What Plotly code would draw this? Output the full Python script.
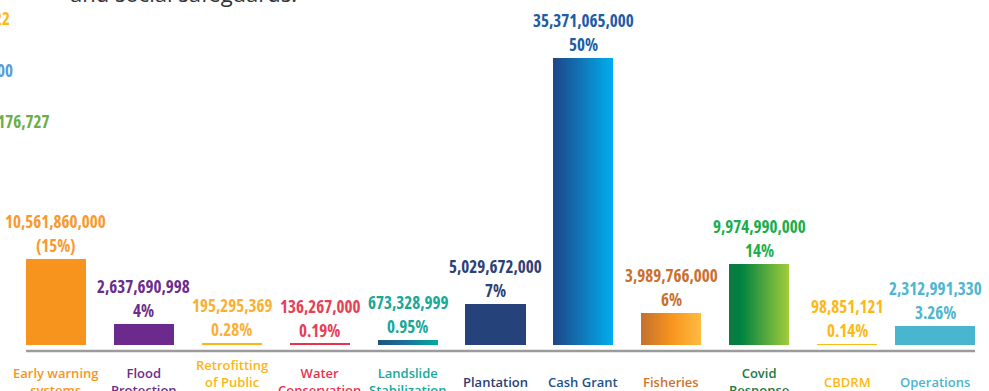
import plotly.graph_objects as go

# ---------------- data ----------------
categories = ["Early warning systems", "Flood Protection", "Retrofitting of Public Buildings",
              "Water Conservation", "Landslide Stabilization", "Plantation", "Cash Grant",
              "Fisheries", "Covid Response", "CBDRM", "Operations"]
category_labels = ["Early warning<br>systems", "Flood<br>Protection", "Retrofitting<br>of Public<br>Buildings",
                   "Water<br>Conservation", "Landslide<br>Stabilization", "Plantation", "Cash Grant",
                   "Fisheries", "Covid<br>Response", "CBDRM", "Operations"]
amounts = [10561860000, 2637690998, 195295369, 136267000, 673328999, 5029672000,
           35371065000, 3989766000, 9974990000, 98851121, 2312991330]
shares = ["(15%)", "4%", "0.28%", "0.19%", "0.95%", "7%", "50%", "6%", "14%", "0.14%", "3.26%"]

# fragments of neighbouring content visible at the left edge
edge_fragments = ["22", "00", "0,176,727"]

# ---------------- styles ----------------
bar_colors = ["#F7941D", "#6B2A8C", "#FDB515", "#E8334F", "#1E6E9E", "#26427A",
              "#0E7BC0", "#F7941D", "#3E9A3E", "#FDBA13", "#4AB5CF"]
gradients = {
    4: [(0.0, "#1B5579"), (0.45, "#1E6E9E"), (1.0, "#00AC9C")],
    6: [(0.0, "#1D4587"), (1.0, "#00AEEF")],
    7: [(0.0, "#C4702E"), (0.5, "#F7941D"), (1.0, "#FDBB40")],
    8: [(0.0, "#0A7A3E"), (0.2, "#00823F"), (1.0, "#A3CC3A")],
}
value_colors = ["#F79A2E", "#6B2D8C", "#FBB034", "#E83E57", "#17A898", "#2B4275",
                "#1B5DA6", "#C9702F", "#19AE4D", "#FDB913", "#4DB6D0"]
label_colors = ["#F7941D", "#6B2D8C", "#FDB515", "#E8334F", "#16A99A", "#2B3F73",
                "#1B5390", "#D0722E", "#1F7A3F", "#FDB913", "#4DB3D0"]
fragment_colors = ["#FDB913", "#5B9BD5", "#6AAE48"]
fragment_right_px = [12, 15, 52]
fragment_mid_px = [18.3, 70, 121.5]
bar_widths = [0.683] * 10 + [0.91]

W, H = 989, 391
ML, MR, MT, MB = 12, 10, 0, 46
plot_h = H - MT - MB
plot_w = W - ML - MR
px_per_billion = 8.1
y_top = plot_h / px_per_billion * 1e9

NUM_FONT = "Open Sans, Roboto, sans-serif"
NUM_SIZE = 17
LBL_FONT = "Open Sans, Noto Sans, sans-serif"


def cond(txt):
    return f"<span style='font-stretch:condensed'>{txt}</span>"


def hex2rgb(h):
    h = h.lstrip("#")
    return tuple(int(h[i:i + 2], 16) for i in (0, 2, 4))


def grad_color(stops, t):
    for (p0, c0), (p1, c1) in zip(stops, stops[1:]):
        if p0 <= t <= p1:
            f = 0 if p1 == p0 else (t - p0) / (p1 - p0)
            a, b = hex2rgb(c0), hex2rgb(c1)
            r = [round(a[i] + (b[i] - a[i]) * f) for i in range(3)]
            return "rgb(%d,%d,%d)" % tuple(r)
    return stops[-1][1]


fig = go.Figure()

# solid bars (all categories)
fig.add_trace(go.Bar(
    x=categories, y=amounts, width=bar_widths,
    marker=dict(color=bar_colors, line=dict(width=0)),
    hoverinfo="skip", showlegend=False,
))

# gradient overlay slices for the gradient bars
N = 30
g_idx = sorted(gradients)
for k in range(N):
    xs, ys, offs, wds, cols = [], [], [], [], []
    for i in g_idx:
        w = bar_widths[i]
        off = -w / 2 + k * w / N
        wd = min(w / N * 1.8, w / 2 - off)
        xs.append(categories[i])
        ys.append(amounts[i])
        offs.append(off)
        wds.append(wd)
        cols.append(grad_color(gradients[i], (k + 0.5) / N))
    fig.add_trace(go.Bar(
        x=xs, y=ys, offset=offs, width=wds,
        marker=dict(color=cols, line=dict(width=0)),
        hoverinfo="skip", showlegend=False,
    ))

annotations = []
for i, cat in enumerate(categories):
    num_font = dict(family=NUM_FONT, size=NUM_SIZE, color=value_colors[i], weight=700)
    annotations.append(dict(
        x=cat, y=amounts[i], xref="x", yref="y", yanchor="bottom", xanchor="center",
        yshift=0, showarrow=False, text=cond(shares[i]), font=num_font,
    ))
    annotations.append(dict(
        x=cat, y=amounts[i], xref="x", yref="y", yanchor="bottom", xanchor="center",
        yshift=24, showarrow=False, text=cond(f"{amounts[i]:,}"), font=num_font,
    ))
    annotations.append(dict(
        x=cat, y=(plot_h - 381.5) / plot_h, xref="x", yref="paper",
        yanchor="middle", xanchor="center", showarrow=False, align="center",
        text=category_labels[i],
        font=dict(family=LBL_FONT, size=13, color=label_colors[i], weight=600),
    ))

# edge fragments at the left border
for txt, col, xr, ym in zip(edge_fragments, fragment_colors, fragment_right_px, fragment_mid_px):
    annotations.append(dict(
        x=(xr - ML) / plot_w, y=(plot_h - ym) / plot_h, xref="paper", yref="paper",
        xanchor="right", yanchor="middle", showarrow=False, text=cond(txt),
        font=dict(family=NUM_FONT, size=NUM_SIZE, color=col, weight=700),
    ))

# cut-off heading text at top
annotations.append(dict(
    x=(68 - ML) / plot_w, y=(plot_h - 10) / plot_h, xref="paper", yref="paper",
    xanchor="left", yanchor="bottom", showarrow=False, text="and social safeguards.",
    font=dict(family=LBL_FONT, size=22, color="#333333"),
))

fig.update_layout(
    width=W, height=H,
    margin=dict(l=ML, r=MR, t=MT, b=MB, pad=0),
    paper_bgcolor="white", plot_bgcolor="white",
    barmode="overlay", bargap=0,
    showlegend=False,
    xaxis=dict(type="category", categoryorder="array", categoryarray=categories,
               range=[-0.5, len(categories) - 0.5], showticklabels=False,
               showgrid=False, zeroline=False, showline=False, ticks=""),
    yaxis=dict(range=[0, y_top], visible=False, showgrid=False, zeroline=False),
    annotations=annotations,
    shapes=[dict(type="line", xref="x", yref="paper",
                 x0=-0.34, x1=len(categories) - 1 + bar_widths[-1] / 2,
                 y0=(plot_h - 351) / plot_h, y1=(plot_h - 351) / plot_h,
                 line=dict(color="#9B9B9B", width=2.5), layer="below")],
)

fig.write_html("out.html")
